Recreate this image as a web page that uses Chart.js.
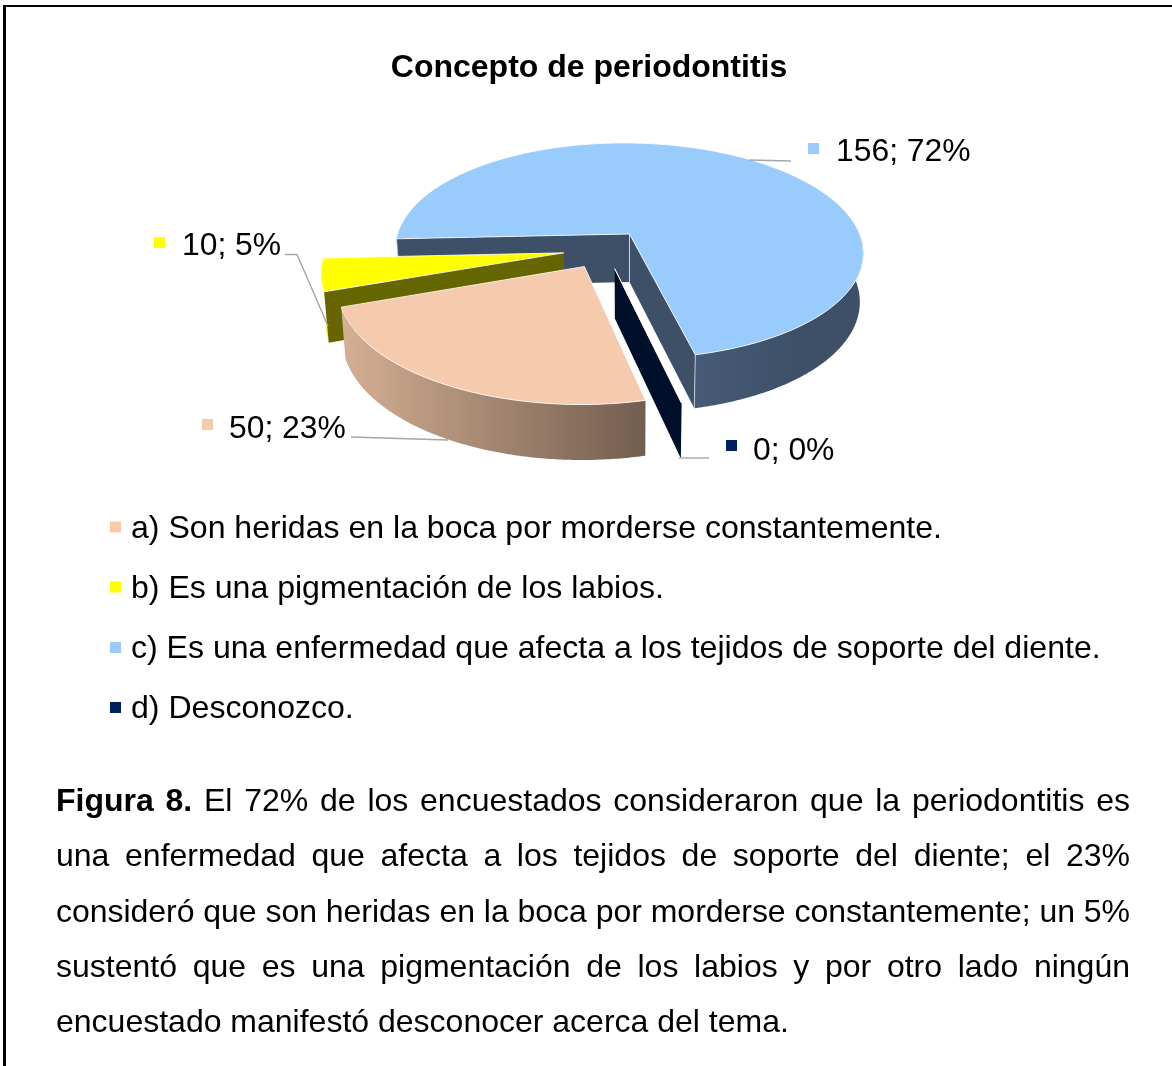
<!DOCTYPE html>
<html lang="es">
<head>
<meta charset="utf-8">
<title>Concepto de periodontitis</title>
<style>
  html,body{margin:0;padding:0;background:#fff;width:1172px;height:1066px;overflow:hidden}
  #wrap{position:relative;width:1172px;height:1066px}
  canvas{position:absolute;left:0;top:0}
  .rule{position:absolute;background:#000}
  #caption{position:absolute;left:56px;top:773px;width:1074px;font:32px/55.3px "Liberation Sans",Arial,sans-serif;color:#000}
  #caption div{text-align:justify;text-align-last:justify;white-space:nowrap}
  #caption div.last{text-align-last:left}
</style>
<script src="https://cdn.jsdelivr.net/npm/chart.js@4/dist/chart.umd.min.js"></script>
</head>
<body>
<div id="wrap">
  <canvas id="c" width="1172" height="1066"></canvas>
  <div class="rule" style="left:3px;top:5px;width:1169px;height:2px"></div>
  <div class="rule" style="left:3px;top:5px;width:3px;height:1061px"></div>
  <div id="caption">
    <div><b>Figura 8.</b> El 72% de los encuestados consideraron que la periodontitis es</div>
    <div>una enfermedad que afecta a los tejidos de soporte del diente; el 23%</div>
    <div style="letter-spacing:-0.04px">consideró que son heridas en la boca por morderse constantemente; un 5%</div>
    <div>sustentó que es una pigmentación de los labios y por otro lado ningún</div>
    <div class="last">encuestado manifestó desconocer acerca del tema.</div>
  </div>
</div>
<script>
const chartTitle = "Concepto de periodontitis";
const categories = [
  "a) Son heridas en la boca por morderse constantemente.",
  "b) Es una pigmentación de los labios.",
  "c) Es una enfermedad que afecta a los tejidos de soporte del diente.",
  "d) Desconozco."
];
const counts = [50, 10, 156, 0];
const topColors = ["#F5CAAD", "#FFFF00", "#99CBFC", "#002060"];
const sideColors = ["#8F7767", "#666600", "#3D5068", "#000F2A"];
const rimStops = [["#D3AE93", "#735E4F"], ["#F4F46A", "#F4F46A"], ["#475B76", "#3D5068"], ["#000F2A", "#000F2A"]];
const rimSpan = [[345, 643], [320, 330], [695, 800], [600, 700]];
const edgeLines = [false, false, true, false];

// placement of each data label: marker x/y, text x, text baseline, leader polyline
const labelBoxes = [
  {mx:202, my:419, tx:229, ty:437.5, line:[[351,437],[448,440]]},
  {mx:154, my:237, tx:182, ty:255,   line:[[285,254.5],[297,254.5],[328,326]]},
  {mx:808, my:143, tx:836, ty:161,   line:[[749,160],[791,161]]},
  {mx:726, my:440, tx:753, ty:460,   line:[[679,458],[709,458]]}
];
const legendRows = [
  {y:537.5, tx:131}, {y:597.5, tx:131}, {y:658, tx:131}, {y:718, tx:131}
];

const VIEW = {ox:629.5, oy:234, rx:231, ry:105.1, persp:0.155, depth:48, taper:0.985, shear:0.011,
              cu:-0.104, cv:0.143, explode:0.177};
const FONT = '"Liberation Sans", Arial, sans-serif';

function project(u, v, low) {
  const s = 1 / (1 - VIEW.persp * v);
  let x = VIEW.ox + VIEW.rx * u * s;
  let y = VIEW.oy + VIEW.ry * v * s + VIEW.shear * VIEW.rx * u * s;
  if (low) {
    x = VIEW.ox + (x - VIEW.ox) * VIEW.taper;
    y += VIEW.depth * (1 + 0.12 * v);
  }
  return [x, y];
}

const pie3d = {
  id: 'pie3d',
  beforeDatasetsDraw(chart) {
    const ctx = chart.ctx;
    const arcs = chart.getDatasetMeta(0).data;
    const slices = arcs.map((arc, i) => {
      const a = arc.startAngle + Math.PI / 2, b = arc.endAngle + Math.PI / 2, m = (a + b) / 2;
      return {i, a, b,
        au: VIEW.cu + VIEW.explode * Math.sin(m),
        av: VIEW.cv - VIEW.explode * Math.cos(m)};
    }).sort((p, q) => p.av - q.av);

    ctx.save();
    ctx.lineJoin = 'round';
    for (const s of slices) {
      const pt = (t, low) => project(s.au + Math.sin(t), s.av - Math.cos(t), low);
      const apex = low => project(s.au, s.av, low);
      const arcPts = (from, to, low) => {
        const n = Math.max(2, Math.ceil((to - from) / 0.01)), out = [];
        for (let k = 0; k <= n; k++) out.push(pt(from + (to - from) * k / n, low));
        return out;
      };
      const fillPoly = (pts, fill) => {
        ctx.beginPath();
        pts.forEach((p, k) => k ? ctx.lineTo(p[0], p[1]) : ctx.moveTo(p[0], p[1]));
        ctx.closePath();
        ctx.fillStyle = fill;
        ctx.fill();
      };
      // outer rim, only the part that faces the viewer
      const lo = 85 * Math.PI / 180, hi = 275 * Math.PI / 180, turn = 2 * Math.PI;
      for (let k = -1; k <= 1; k++) {
        const f = Math.max(s.a, lo + k * turn), t = Math.min(s.b, hi + k * turn);
        if (t > f) {
          const g = ctx.createLinearGradient(rimSpan[s.i][0], 0, rimSpan[s.i][1], 0);
          g.addColorStop(0, rimStops[s.i][0]);
          g.addColorStop(1, rimStops[s.i][1]);
          fillPoly(arcPts(f, t, false).concat(arcPts(f, t, true).reverse()), g);
        }
      }
      // the two radial walls, when they face the viewer
      const wall = (t, normal) => {
        if (-Math.cos(normal) <= 0) return;
        fillPoly([apex(false), pt(t, false), pt(t, true), apex(true)], sideColors[s.i]);
        if (edgeLines[s.i]) {
          ctx.strokeStyle = 'rgba(225,232,240,0.75)';
          ctx.lineWidth = 1;
          for (const e of [[apex(false), apex(true)], [pt(t, false), pt(t, true)]]) {
            ctx.beginPath();
            ctx.moveTo(e[0][0], e[0][1]);
            ctx.lineTo(e[1][0], e[1][1]);
            ctx.stroke();
          }
        }
      };
      wall(s.a, s.a - Math.PI / 2);
      wall(s.b, s.b + Math.PI / 2);
      // top face
      const top = [apex(false)].concat(arcPts(s.a, s.b, false));
      fillPoly(top, topColors[s.i]);
      ctx.beginPath();
      top.forEach((p, k) => k ? ctx.lineTo(p[0], p[1]) : ctx.moveTo(p[0], p[1]));
      ctx.closePath();
      ctx.strokeStyle = 'rgba(255,255,255,0.8)';
      ctx.lineWidth = 1;
      ctx.stroke();
    }
    ctx.restore();
    return false;
  },
  afterDraw(chart) {
    const ctx = chart.ctx;
    const total = counts.reduce((p, q) => p + q, 0);
    ctx.save();
    ctx.textBaseline = 'alphabetic';
    ctx.textAlign = 'left';
    ctx.fillStyle = '#000';
    // data labels and leaders
    ctx.font = '31.85px ' + FONT;
    counts.forEach((n, i) => {
      const b = labelBoxes[i];
      ctx.strokeStyle = '#A6A6A6';
      ctx.lineWidth = 1.4;
      ctx.beginPath();
      b.line.forEach((p, k) => k ? ctx.lineTo(p[0], p[1]) : ctx.moveTo(p[0], p[1]));
      ctx.stroke();
      ctx.fillStyle = topColors[i];
      ctx.fillRect(b.mx, b.my, 11, 11);
      ctx.fillStyle = '#000';
      ctx.fillText(n + '; ' + Math.round(n / total * 100) + '%', b.tx, b.ty);
    });
    // legend
    ctx.font = '32.07px ' + FONT;
    categories.forEach((name, i) => {
      const r = legendRows[i];
      ctx.fillStyle = topColors[i];
      ctx.fillRect(110, r.y - 16, 11, 11);
      ctx.fillStyle = '#000';
      ctx.fillText(name, r.tx, r.y);
    });
    ctx.restore();
  }
};

new Chart(document.getElementById('c'), {
  type: 'pie',
  data: {
    labels: categories,
    datasets: [{data: counts, backgroundColor: topColors, borderWidth: 0}]
  },
  options: {
    responsive: false,
    animation: false,
    events: [],
    rotation: 166,
    layout: {padding: {left: 6, top: 0, right: 0, bottom: 600}},
    plugins: {
      legend: {display: false},
      tooltip: {enabled: false},
      title: {
        display: true,
        text: chartTitle,
        color: '#000',
        font: {family: FONT, size: 32, weight: 'bold'},
        padding: {top: 49, bottom: 10}
      }
    }
  },
  plugins: [pie3d]
});
</script>
</body>
</html>
